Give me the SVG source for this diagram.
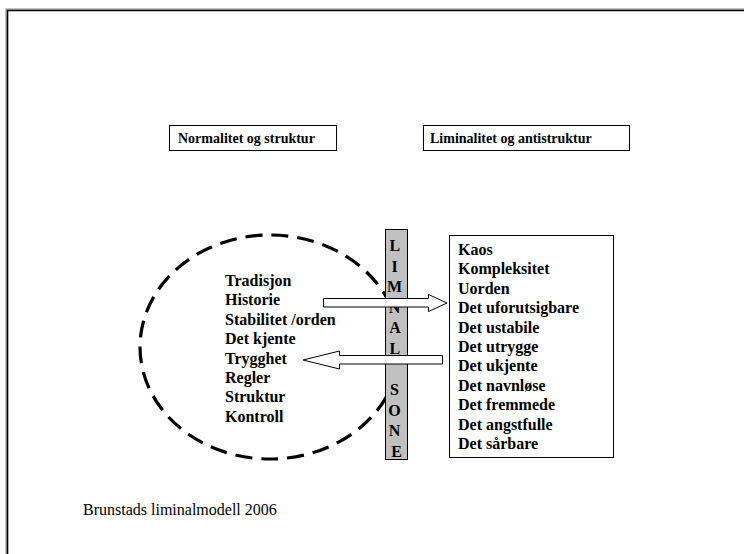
<svg xmlns="http://www.w3.org/2000/svg" width="744" height="554" viewBox="0 0 744 554">
<style>
.b{font-family:"Liberation Serif","Times New Roman",serif;font-weight:bold;font-size:16px;fill:#000}
.h{font-family:"Liberation Serif","Times New Roman",serif;font-weight:bold;font-size:14px;fill:#000}
.z{font-family:"Liberation Serif","Times New Roman",serif;font-weight:bold;font-size:16px;fill:#000;text-anchor:middle}
.box{fill:#fff;stroke:#000;stroke-width:1}
.arr{fill:#fff;stroke:#000;stroke-width:1}
</style>
<rect width="744" height="554" fill="#fff"/>
<path d="M7 554 V10 H744" fill="none" stroke="#888" stroke-width="3"/>
<path d="M7.5 554 V10.5 H744" fill="none" stroke="#000" stroke-width="1.2"/>
<g id="label-normal">
<rect class="box" x="169.5" y="125.5" width="167" height="25"/>
<text class="h" x="178" y="143">Normalitet og struktur</text>
</g>
<g id="label-liminal">
<rect class="box" x="423.5" y="125.5" width="206" height="25"/>
<text class="h" x="430" y="143">Liminalitet og antistruktur</text>
</g>
<g id="normal-zone">
<ellipse cx="270" cy="347" rx="130" ry="112" fill="none" stroke="#000" stroke-width="3.2" stroke-dasharray="17 9"/>
<text class="b" x="225">
<tspan x="225" y="286">Tradisjon</tspan>
<tspan x="225" y="305.4">Historie</tspan>
<tspan x="225" y="324.8">Stabilitet /orden</tspan>
<tspan x="225" y="344.2">Det kjente</tspan>
<tspan x="225" y="363.6">Trygghet</tspan>
<tspan x="225" y="383">Regler</tspan>
<tspan x="225" y="402.4">Struktur</tspan>
<tspan x="225" y="421.8">Kontroll</tspan>
</text>
</g>
<g id="liminal-sone">
<rect x="385.5" y="229.5" width="22" height="230" fill="#c0c0c0" stroke="#000" stroke-width="1"/>
<text class="z">
<tspan x="396.5" y="251">L</tspan>
<tspan x="396.5" y="271.6">I</tspan>
<tspan x="396.5" y="292.2">M</tspan>
<tspan x="396.5" y="312.8">N</tspan>
<tspan x="396.5" y="333.4">A</tspan>
<tspan x="396.5" y="354">L</tspan>
<tspan x="396.5" y="395.2">S</tspan>
<tspan x="396.5" y="415.8">O</tspan>
<tspan x="396.5" y="436.4">N</tspan>
<tspan x="396.5" y="457">E</tspan>
</text>
</g>
<g id="liminal-list">
<rect class="box" x="449.5" y="235.5" width="164" height="222"/>
<text class="b">
<tspan x="458" y="255">Kaos</tspan>
<tspan x="458" y="274.4">Kompleksitet</tspan>
<tspan x="458" y="293.8">Uorden</tspan>
<tspan x="458" y="313.2">Det uforutsigbare</tspan>
<tspan x="458" y="332.6">Det ustabile</tspan>
<tspan x="458" y="352">Det utrygge</tspan>
<tspan x="458" y="371.4">Det ukjente</tspan>
<tspan x="458" y="390.8">Det navnløse</tspan>
<tspan x="458" y="410.2">Det fremmede</tspan>
<tspan x="458" y="429.6">Det angstfulle</tspan>
<tspan x="458" y="449">Det sårbare</tspan>
</text>
</g>
<g id="connectors">
<polygon class="arr" points="323.5,298.5 428.5,298.5 428.5,294.5 447,303 428.5,311.5 428.5,307 323.5,307"/>
<polygon class="arr" points="442.5,355.5 339.5,355.5 339.5,351 303,360 339.5,369 339.5,364 442.5,364"/>
</g>
<text x="83" y="515" font-family="Liberation Serif,'Times New Roman',serif" font-size="16">Brunstads liminalmodell 2006</text>
</svg>
